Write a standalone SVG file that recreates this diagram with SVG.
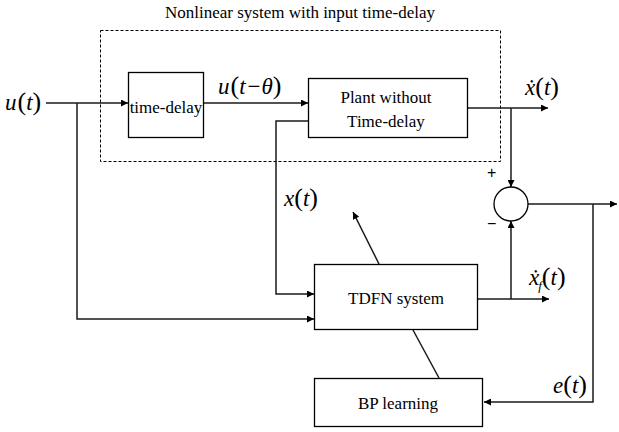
<svg xmlns="http://www.w3.org/2000/svg" width="619" height="432" viewBox="0 0 619 432">
  <style>
    .box { fill: #fff; stroke: #000; stroke-width: 1.3; }
    .wire { fill: none; stroke: #1a1a1a; stroke-width: 1.5; }
    .lbl { font-family: "Liberation Serif", "Times New Roman", serif; font-size: 17px; fill: #000; }
    .math { font-family: "Liberation Serif", "Times New Roman", serif; font-size: 23px; font-style: italic; fill: #000; }
    .par { font-style: normal; font-size: 26px; }
    .sign { font-family: "Liberation Sans", Arial, sans-serif; font-size: 16px; fill: #000; }
  </style>
  <defs>
    <marker id="arr" viewBox="0 0 10 10" refX="10" refY="5" markerWidth="8" markerHeight="7" markerUnits="userSpaceOnUse" orient="auto">
      <path d="M0,0 L10,5 L0,10 z" fill="#000"/>
    </marker>
  </defs>
  <rect width="619" height="432" fill="#fff"/>

  <!-- dashed enclosure: plant with input delay -->
  <g id="delayed-system">
    <rect x="100.5" y="30.5" width="400" height="131" fill="none" stroke="#000" stroke-width="1" stroke-dasharray="3,2"/>
    <text class="lbl" x="300" y="18" text-anchor="middle">Nonlinear system with input time-delay</text>
  </g>

  <!-- connectors -->
  <g id="connectors">
    <!-- input u(t) to time-delay -->
    <path class="wire" d="M46,103 H128" marker-end="url(#arr)"/>
    <!-- delayed input to plant -->
    <path class="wire" d="M204,103 H308" marker-end="url(#arr)"/>
    <!-- branch of u(t) to TDFN -->
    <path class="wire" d="M77,103 V319 H314" marker-end="url(#arr)"/>
    <!-- state x(t) to TDFN -->
    <path class="wire" d="M308,121 H276 V294 H314" marker-end="url(#arr)"/>
    <!-- plant output -->
    <path class="wire" d="M468,108 H548" marker-end="url(#arr)"/>
    <path class="wire" d="M511,108 V187" marker-end="url(#arr)"/>
    <!-- TDFN output -->
    <path class="wire" d="M478,299 H549" marker-end="url(#arr)"/>
    <path class="wire" d="M511,299 V221" marker-end="url(#arr)"/>
    <!-- error output -->
    <path class="wire" d="M528,204 H617" marker-end="url(#arr)"/>
    <path class="wire" d="M593,204 V402 H484" marker-end="url(#arr)"/>
    <!-- learning link and adaptation arrow -->
    <path class="wire" d="M439,378 L413,330" stroke-width="1.3"/>
    <path class="wire" d="M379,264 L353,212" stroke-width="1.3" marker-end="url(#arr)"/>
  </g>

  <g id="time-delay">
    <rect class="box" x="128.5" y="72.5" width="75" height="65"/>
    <text class="lbl" x="166" y="113" text-anchor="middle">time-delay</text>
  </g>

  <g id="plant">
    <rect class="box" x="308.5" y="78.5" width="159" height="59"/>
    <text class="lbl" x="386" y="103" text-anchor="middle">Plant without</text>
    <text class="lbl" x="386" y="127" text-anchor="middle">Time-delay</text>
  </g>

  <g id="summer">
    <circle cx="511" cy="204" r="17" fill="#fff" stroke="#000" stroke-width="1.3"/>
    <text class="sign" x="487" y="178">+</text>
    <text class="sign" x="487" y="229">−</text>
  </g>

  <g id="tdfn">
    <rect class="box" x="314.5" y="264.5" width="163" height="65"/>
    <text class="lbl" x="396" y="304" text-anchor="middle">TDFN system</text>
  </g>

  <g id="bp-learning">
    <rect class="box" x="314.5" y="378.5" width="168" height="48"/>
    <text class="lbl" x="398" y="409" text-anchor="middle">BP learning</text>
  </g>

  <!-- signal labels -->
  <g id="labels">
    <text class="math" x="5" y="110">u<tspan class="par" dx="1">(</tspan>t<tspan class="par">)</tspan></text>
    <text class="math" x="218" y="94">u<tspan class="par" dx="1">(</tspan>t<tspan font-style="normal" dx="2">−</tspan><tspan dx="1">θ</tspan><tspan class="par">)</tspan></text>
    <text class="math" x="525" y="95">ẋ<tspan class="par">(</tspan>t<tspan class="par">)</tspan></text>
    <text class="math" x="284" y="206">x<tspan class="par">(</tspan>t<tspan class="par">)</tspan></text>
    <text class="math" x="529" y="285">ẋ<tspan font-size="13" dy="5" dx="-1">f</tspan><tspan class="par" dy="-5">(</tspan>t<tspan class="par">)</tspan></text>
    <text class="math" x="553" y="393">e<tspan class="par">(</tspan>t<tspan class="par">)</tspan></text>
  </g>
</svg>
